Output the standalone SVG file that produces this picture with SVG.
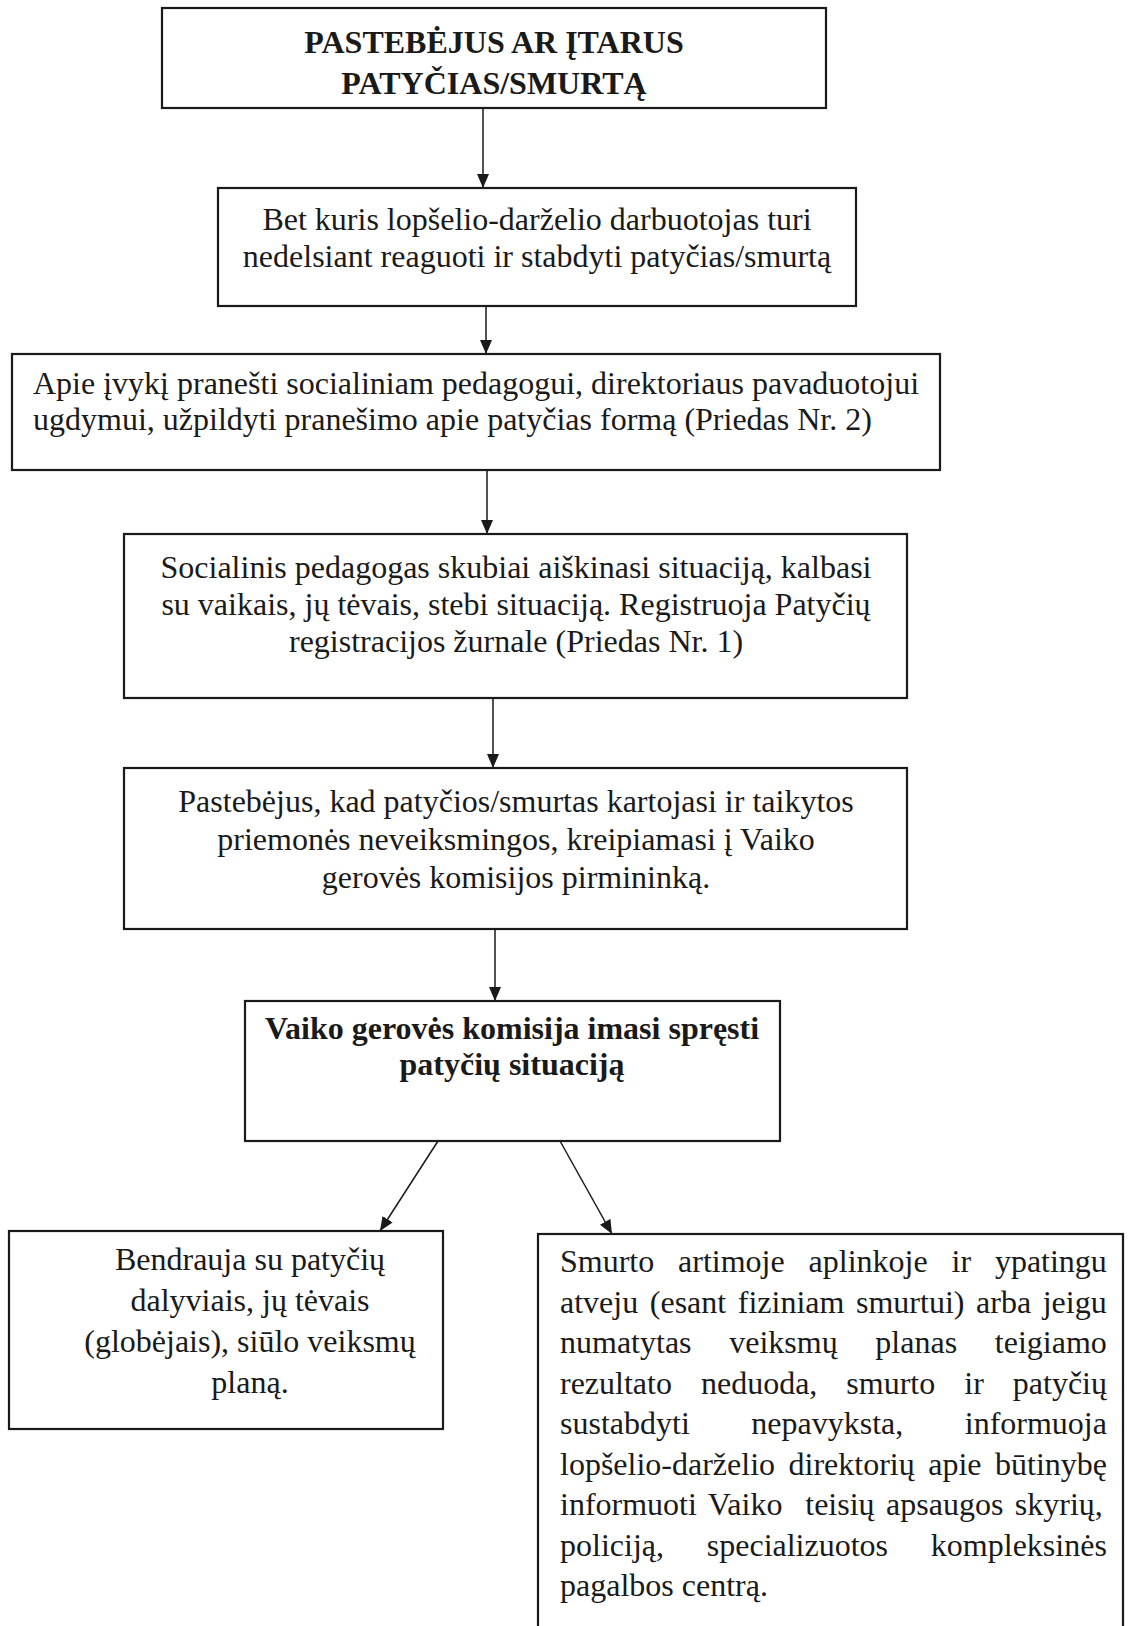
<svg xmlns="http://www.w3.org/2000/svg" width="1129" height="1626" viewBox="0 0 1129 1626">
<defs>
<style>
.box{fill:#fff;stroke:#1a1a1a;stroke-width:2.2}
.t{font-family:"Liberation Serif","Times New Roman",serif;font-size:32px;fill:#1a1a1a}
.c{text-anchor:middle}
.b{font-weight:bold}
.conn{stroke:#1a1a1a;stroke-width:1.5;fill:none;marker-end:url(#ah)}
</style>
<marker id="ah" viewBox="0 0 14 12" refX="14" refY="6" markerWidth="14" markerHeight="12" markerUnits="userSpaceOnUse" orient="auto">
<path d="M0,0 L14,6 L0,12 z" fill="#1a1a1a"/>
</marker>
</defs>
<rect width="1129" height="1626" fill="#fff"/>
<g id="connectors">
<line class="conn" x1="483" y1="108" x2="483" y2="188"/>
<line class="conn" x1="486" y1="306" x2="486" y2="354"/>
<line class="conn" x1="487" y1="470" x2="487" y2="534"/>
<line class="conn" x1="493" y1="698" x2="493" y2="768"/>
<line class="conn" x1="495" y1="929" x2="495" y2="1001"/>
<line class="conn" x1="438" y1="1141" x2="380" y2="1231"/>
<line class="conn" x1="560" y1="1141" x2="612" y2="1234"/>
</g>
<g id="n1">
<rect class="box" x="162" y="8" width="664" height="100"/>
<text class="t c b" x="494" y="53">PASTEBĖJUS AR ĮTARUS</text>
<text class="t c b" x="494" y="94">PATYČIAS/SMURTĄ</text>
</g>
<g id="n2">
<rect class="box" x="218" y="188" width="638" height="118"/>
<text class="t c" x="537" y="230">Bet kuris lopšelio-darželio darbuotojas turi</text>
<text class="t c" x="537" y="267">nedelsiant reaguoti ir stabdyti patyčias/smurtą</text>
</g>
<g id="n3">
<rect class="box" x="12" y="354" width="928" height="116"/>
<text class="t" x="33" y="394">Apie įvykį pranešti socialiniam pedagogui, direktoriaus pavaduotojui</text>
<text class="t" x="33" y="430">ugdymui, užpildyti pranešimo apie patyčias formą (Priedas Nr. 2)</text>
</g>
<g id="n4">
<rect class="box" x="124" y="534" width="783" height="164"/>
<text class="t c" x="516" y="578">Socialinis pedagogas skubiai aiškinasi situaciją, kalbasi</text>
<text class="t c" x="516" y="615">su vaikais, jų tėvais, stebi situaciją. Registruoja Patyčių</text>
<text class="t c" x="516" y="652">registracijos žurnale (Priedas Nr. 1)</text>
</g>
<g id="n5">
<rect class="box" x="124" y="768" width="783" height="161"/>
<text class="t c" x="516" y="812">Pastebėjus, kad patyčios/smurtas kartojasi ir taikytos</text>
<text class="t c" x="516" y="850">priemonės neveiksmingos, kreipiamasi į Vaiko</text>
<text class="t c" x="516" y="888">gerovės komisijos pirmininką.</text>
</g>
<g id="n6">
<rect class="box" x="245" y="1001" width="535" height="140"/>
<text class="t c b" x="512" y="1039" font-size="31">Vaiko gerovės komisija imasi spręsti</text>
<text class="t c b" x="512" y="1075" font-size="31">patyčių situaciją</text>
</g>
<g id="n7">
<rect class="box" x="9" y="1231" width="434" height="198"/>
<text class="t c" x="250" y="1270">Bendrauja su patyčių</text>
<text class="t c" x="250" y="1311">dalyviais, jų tėvais</text>
<text class="t c" x="250" y="1352">(globėjais), siūlo veiksmų</text>
<text class="t c" x="250" y="1393">planą.</text>
</g>
<g id="n8">
<rect class="box" x="538" y="1234" width="585" height="420"/>
<text class="t" x="560" y="1272" word-spacing="15.85">Smurto artimoje aplinkoje ir ypatingu</text>
<text class="t" x="560" y="1312.5" word-spacing="3.6">atveju (esant fiziniam smurtui) arba jeigu</text>
<text class="t" x="560" y="1353" word-spacing="29.7">numatytas veiksmų planas teigiamo</text>
<text class="t" x="560" y="1393.5" word-spacing="21">rezultato neduoda, smurto ir patyčių</text>
<text class="t" x="560" y="1434" word-spacing="53.5">sustabdyti nepavyksta, informuoja</text>
<text class="t" x="560" y="1474.5" word-spacing="5.5">lopšelio-darželio direktorių apie būtinybę</text>
<text class="t" x="560" y="1515" word-spacing="3.44" xml:space="preserve">informuoti Vaiko  teisių apsaugos skyrių,</text>
<text class="t" x="560" y="1555.5" word-spacing="34.8">policiją, specializuotos kompleksinės</text>
<text class="t" x="560" y="1596">pagalbos centrą.</text>
</g>
</svg>
